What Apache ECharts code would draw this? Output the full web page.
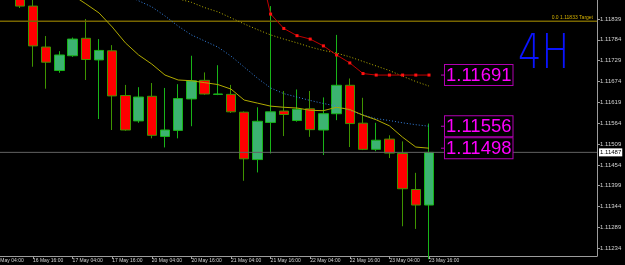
<!DOCTYPE html>
<html>
<head>
<meta charset="utf-8">
<title>EURUSD H4</title>
<script src="https://cdn.jsdelivr.net/npm/echarts@6.0.0/dist/echarts.min.js"></script>
<style>
  html, body { margin: 0; padding: 0; background: #000; }
  #chart { width: 625px; height: 265px; }
</style>
</head>
<body>
<div id="chart"></div>
<script>
// bar times, first entry is bar -1 (only its label shows, cut at the left edge)
var times = [
  '16 May 04:00', '16 May 08:00', '16 May 12:00', '16 May 16:00', '16 May 20:00',
  '17 May 00:00', '17 May 04:00', '17 May 08:00', '17 May 12:00', '17 May 16:00', '17 May 20:00',
  '20 May 00:00', '20 May 04:00', '20 May 08:00', '20 May 12:00', '20 May 16:00', '20 May 20:00',
  '21 May 00:00', '21 May 04:00', '21 May 08:00', '21 May 12:00', '21 May 16:00', '21 May 20:00',
  '22 May 00:00', '22 May 04:00', '22 May 08:00', '22 May 12:00', '22 May 16:00', '22 May 20:00',
  '23 May 00:00', '23 May 04:00', '23 May 08:00', '23 May 12:00', '23 May 16:00'
];
var firstBar = -1;

// candles from bar 1 (16 May 12:00) to bar 32 (23 May 16:00)
var candleStart = 1;
var opens = [1.11905, 1.11873, 1.11765, 1.11703, 1.11742, 1.11788, 1.11731, 1.11755, 1.11637, 1.11570,
  1.11635, 1.11529, 1.11545, 1.11628, 1.11677, 1.11640, 1.11640, 1.11593, 1.11468, 1.11566,
  1.11596, 1.11571, 1.11602, 1.11546, 1.11589, 1.11664, 1.11564, 1.11495, 1.11522, 1.11484,
  1.11389, 1.11348];
var closes = [1.11873, 1.11768, 1.11725, 1.11744, 1.11786, 1.11732, 1.11756, 1.11636, 1.11546, 1.11633,
  1.11532, 1.11546, 1.11629, 1.11676, 1.11641, 1.11641, 1.11594, 1.11470, 1.11569, 1.11594,
  1.11587, 1.11601, 1.11547, 1.11589, 1.11664, 1.11563, 1.11495, 1.11519, 1.11485, 1.11391,
  1.11348, 1.11487];
var lows = [1.11868, 1.11713, 1.11655, 1.11697, 1.11739, 1.11678, 1.11575, 1.11546, 1.11544, 1.11565,
  1.11524, 1.11500, 1.11524, 1.11556, 1.11639, 1.11638, 1.11591, 1.11412, 1.11434, 1.11484,
  1.11530, 1.11568, 1.11528, 1.11480, 1.11572, 1.11501, 1.11493, 1.11490, 1.11472, 1.11292,
  1.11285, 1.11205];
var highs = [1.11915, 1.11895, 1.11794, 1.11754, 1.11790, 1.11839, 1.11786, 1.11770, 1.11665, 1.11659,
  1.11670, 1.11657, 1.11667, 1.11742, 1.11698, 1.11717, 1.11665, 1.11595, 1.11606, 1.11873,
  1.11649, 1.11653, 1.11649, 1.11632, 1.11797, 1.11682, 1.11631, 1.11565, 1.11532, 1.11516,
  1.11433, 1.11563];

// moving averages (start bar + values)
var fastStart = 5;
var fastMa = [1.11902, 1.11879, 1.11855, 1.11818, 1.11776, 1.11744, 1.11720, 1.11691, 1.11678, 1.11676,
  1.11671, 1.11666, 1.11654, 1.11625, 1.11617, 1.11609, 1.11606, 1.11604, 1.11598, 1.11597,
  1.11606, 1.11600, 1.11585, 1.11573, 1.11557, 1.11527, 1.11501, 1.11498];
var slowStart = 12;
var slowMa = [1.11902, 1.11892, 1.11883, 1.11869, 1.11858, 1.11842, 1.11826, 1.11811, 1.11797, 1.11786,
  1.11776, 1.11765, 1.11756, 1.11749, 1.11739, 1.11727, 1.11715, 1.11703, 1.11688, 1.11674, 1.11662];
var blueStart = 9;
var blueMa = [1.11905, 1.11887, 1.11871, 1.11847, 1.11820, 1.11797, 1.11781, 1.11765, 1.11741, 1.11712,
  1.11683, 1.11657, 1.11642, 1.11633, 1.11624, 1.11616, 1.11609, 1.11598, 1.11586, 1.11576,
  1.11571, 1.11565, 1.11560, 1.11556];
var redStart = 19;
var redLine = [1.12000, 1.11852, 1.11814, 1.11795, 1.11786, 1.11768, 1.11744, 1.11723, 1.11695, 1.11691,
  1.11691, 1.11691, 1.11691, 1.11691];

var priceTicks = [1.11839, 1.11784, 1.11729, 1.11674, 1.11619, 1.11564, 1.11509, 1.11454, 1.11399, 1.11344, 1.11289, 1.11234];
var currentPrice = 1.11487;
var targetPrice = 1.11833;
var targetText = '0.0 1.11833 Target';

// visible window: half a bar before bar -1 up to the price scale (chart shift on the right)
var xMin = -1.5, xMax = 44.727;
var yMin = 1.112135, yMax = 1.118891;

var labelBars = [];
times.forEach(function (t, i) { if (i % 3 === 0) labelBars.push(i + firstBar); });

var candles = opens.map(function (o, k) {
  return [candleStart + k, o, closes[k], lows[k], highs[k]];
});
function toLine(start, arr) {
  return arr.map(function (v, k) { return [start + k, v]; });
}
function hLine(price) {
  return [[xMin, price], [xMax, price]];
}

var axisGray = '#9c9c9c';
var textGray = '#d2d2d2';

// magenta price tag at the end of an indicator line
function priceTag(dist) {
  return {
    show: true,
    distance: dist,
    formatter: function (p) { return '{t| }{b|' + p.value[1].toFixed(5) + '}'; },
    rich: {
      t: { width: 4, height: 1, backgroundColor: '#c000c0', verticalAlign: 'middle' },
      b: {
        color: '#ff00ff', fontSize: 18.5, lineHeight: 19,
        fontFamily: "'Liberation Sans Narrow', 'Arial Narrow', sans-serif",
        borderColor: '#b000b0', borderWidth: 1, backgroundColor: '#000',
        padding: [1, 1, 0, 1], verticalAlign: 'middle'
      }
    }
  };
}

var chart = echarts.init(document.getElementById('chart'));
chart.setOption({
  animation: false,
  backgroundColor: '#000',
  grid: { left: -13.2, right: 28, top: 0, bottom: 9, containLabel: false, outerBoundsMode: 'none' },
  xAxis: {
    type: 'value',
    min: xMin,
    max: xMax,
    axisLine: { show: true, onZero: false, lineStyle: { color: axisGray, width: 1 } },
    axisTick: { show: true, customValues: labelBars, length: 3, lineStyle: { color: axisGray } },
    axisLabel: {
      customValues: labelBars,
      formatter: function (v) { return times[v - firstBar]; },
      align: 'left',
      color: textGray,
      fontSize: 5,
      fontFamily: "'Liberation Sans', sans-serif",
      margin: 2
    },
    splitLine: { show: false }
  },
  yAxis: {
    type: 'value',
    position: 'right',
    min: yMin,
    max: yMax,
    axisLine: { show: true, onZero: false, lineStyle: { color: axisGray, width: 1 } },
    axisTick: { show: true, customValues: priceTicks, length: 3, lineStyle: { color: axisGray } },
    axisLabel: {
      customValues: priceTicks,
      formatter: function (v) { return v.toFixed(5); },
      color: textGray,
      fontSize: 6,
      fontFamily: "'Liberation Sans', sans-serif",
      margin: 3
    },
    splitLine: { show: false }
  },
  series: [
    // fibo target level
    {
      type: 'line',
      data: hLine(targetPrice),
      showSymbol: false,
      lineStyle: { color: '#766400', width: 1.5 },
      endLabel: {
        show: true, formatter: targetText, distance: -4,
        align: 'right', verticalAlign: 'bottom',
        color: '#d4b000', fontSize: 5, padding: [0, 0, 1, 0],
        fontFamily: "'Liberation Sans', sans-serif"
      }
    },
    // bid line
    {
      type: 'line',
      data: hLine(currentPrice),
      showSymbol: false,
      lineStyle: { color: '#626262', width: 1 },
      endLabel: {
        show: true, formatter: currentPrice.toFixed(5), distance: 2,
        color: '#000', backgroundColor: '#fff', fontSize: 6,
        padding: [1, 1, 1, 1], fontFamily: "'Liberation Sans', sans-serif"
      }
    },
    {
      type: 'candlestick',
      data: candles,
      barWidth: 10,
      clip: true,
      itemStyle: {
        color: '#3cb371',
        color0: '#ff0000',
        borderColor: '#18b418',
        borderColor0: '#3f9400',
        borderWidth: 1
      }
    },
    {
      type: 'line',
      data: toLine(slowStart, slowMa),
      showSymbol: false,
      lineStyle: { color: '#b8b000', width: 1, type: [1, 2] }
    },
    {
      type: 'line',
      data: toLine(blueStart, blueMa),
      showSymbol: false,
      lineStyle: { color: '#3580e0', width: 1, type: [1, 2] },
      endLabel: priceTag(12)
    },
    {
      type: 'line',
      data: toLine(fastStart, fastMa),
      showSymbol: false,
      lineStyle: { color: '#b0aa00', width: 1 },
      endLabel: priceTag(12)
    },
    {
      type: 'line',
      data: toLine(redStart, redLine),
      symbol: 'rect',
      symbolSize: 3,
      showSymbol: true,
      itemStyle: { color: '#ff1010' },
      lineStyle: { color: '#c00000', width: 1 },
      endLabel: priceTag(12)
    }
  ],
  graphic: [
    {
      type: 'text',
      x: 518,
      y: 31,
      scaleY: 1.3,
      style: {
        text: '4H',
        fill: '#0a14ff',
        fontSize: 37,
        fontWeight: 200,
        fontFamily: "'DejaVu Sans', sans-serif",
        verticalAlign: 'top'
      }
    }
  ]
});
</script>
</body>
</html>
